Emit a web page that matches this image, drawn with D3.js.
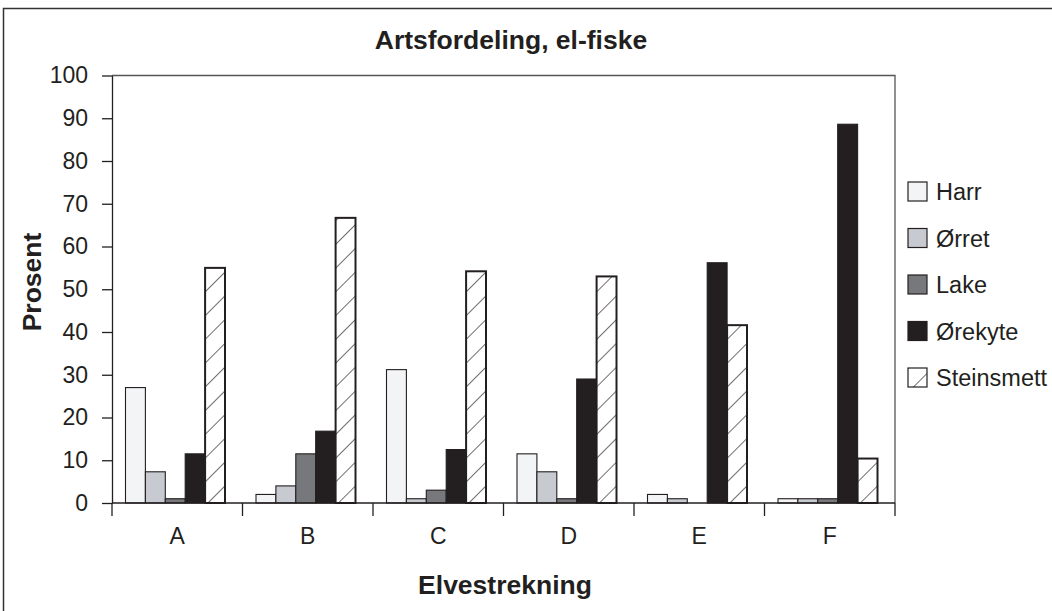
<!DOCTYPE html>
<html>
<head>
<meta charset="utf-8">
<script src="https://cdn.jsdelivr.net/npm/d3@7"></script>
<style>
  body { margin: 0; background: #fff; }
  text { font-family: "Liberation Sans", Arial, sans-serif; fill: #231f20; }
</style>
</head>
<body>
<svg id="chart" width="1052" height="611"></svg>
<script>
// data
const categories = ["A", "B", "C", "D", "E", "F"];
const species = ["Harr", "Ørret", "Lake", "Ørekyte", "Steinsmett"];
const harr = [27, 2, 31.2, 11.5, 2, 1];
const orret = [7.3, 4, 1, 7.3, 1, 1];
const lake = [1, 11.5, 3, 1, 0, 1];
const orekyte = [11.5, 16.8, 12.5, 29, 56.2, 88.6];
const steinsmett = [55, 66.7, 54.2, 53, 41.6, 10.4];
const yTicks = [0, 10, 20, 30, 40, 50, 60, 70, 80, 90, 100];

const seriesValues = [harr, orret, lake, orekyte, steinsmett];
const fills = ["#f3f4f6", "#c8cad1", "#77787c", "#231f20", "url(#hatch)"];

const margin = {top: 75.5, right: 157, bottom: 108, left: 112};
const width = 1052, height = 611;
const innerW = width - margin.left - margin.right;
const innerH = height - margin.top - margin.bottom;

const svg = d3.select("#chart");

// diagonal hatch for Steinsmett
const defs = svg.append("defs");
const pat = defs.append("pattern")
    .attr("id", "hatch")
    .attr("patternUnits", "userSpaceOnUse")
    .attr("width", 16.8)
    .attr("height", 10)
    .attr("patternTransform", "rotate(45)");
pat.append("rect").attr("width", 16.8).attr("height", 10).attr("fill", "#fff");
pat.append("line")
    .attr("x1", 0).attr("y1", 0).attr("x2", 0).attr("y2", 10)
    .attr("stroke", "#231f20").attr("stroke-width", 1.3);

// outer frame (runs off right and bottom)
svg.append("path")
    .attr("d", "M3.5,620 L3.5,8.5 L1060,8.5")
    .attr("fill", "none")
    .attr("stroke", "#333")
    .attr("stroke-width", 1.5);

svg.append("text")
    .attr("x", 511)
    .attr("y", 49)
    .attr("text-anchor", "middle")
    .attr("font-size", 26.5)
    .attr("font-weight", "bold")
    .text("Artsfordeling, el-fiske");

const g = svg.append("g").attr("transform", `translate(${margin.left},${margin.top})`);

const x = d3.scaleBand().domain(categories).range([0, innerW]).padding(0);
const groupW = 99.5;
const x1 = d3.scaleBand().domain(species)
    .range([(x.bandwidth() - groupW) / 2 - 2, (x.bandwidth() + groupW) / 2 - 2]);
const y = d3.scaleLinear().domain([0, 100]).range([innerH, 0]);

// plot frame: top and right
g.append("path")
    .attr("d", `M0,0 H${innerW} V${innerH}`)
    .attr("fill", "none")
    .attr("stroke", "#555")
    .attr("stroke-width", 1.3);

// bars
const rows = categories.map((c, i) => ({cat: c, vals: species.map((s, k) => ({s, k, v: seriesValues[k][i]}))}));
const groups = g.selectAll(".grp").data(rows).join("g")
    .attr("class", "grp")
    .attr("transform", d => `translate(${x(d.cat)},0)`);
groups.selectAll("rect")
    .data(d => d.vals.filter(e => e.v > 0))
    .join("rect")
    .attr("x", d => x1(d.s))
    .attr("width", x1.bandwidth())
    .attr("y", d => y(d.v))
    .attr("height", d => y(0) - y(d.v))
    .attr("fill", d => fills[d.k])
    .attr("stroke", "#231f20")
    .attr("stroke-width", d => d.k === 4 ? 2 : 1.1);

// y axis
const yAxis = g.append("g")
    .call(d3.axisLeft(y).tickValues(yTicks).tickSize(10).tickPadding(14).tickSizeOuter(0));
yAxis.select(".domain").attr("stroke", "#231f20").attr("stroke-width", 1.3);
yAxis.selectAll(".tick line").attr("stroke", "#231f20").attr("stroke-width", 1.3);
yAxis.selectAll("text").attr("font-size", 23).attr("font-family", "Liberation Sans, Arial, sans-serif").attr("fill", "#231f20");

// x axis: ticks at category boundaries
const xAxis = g.append("g").attr("transform", `translate(0,${innerH})`);
xAxis.append("line").attr("x1", 0).attr("x2", innerW)
    .attr("stroke", "#231f20").attr("stroke-width", 1.3);
const bounds = categories.map(c => x(c)).concat([innerW]);
xAxis.selectAll(".bt").data(bounds).join("line")
    .attr("class", "bt")
    .attr("x1", d => d).attr("x2", d => d)
    .attr("y1", 0).attr("y2", 13)
    .attr("stroke", "#231f20").attr("stroke-width", 1.3);
xAxis.selectAll(".cl").data(categories).join("text")
    .attr("class", "cl")
    .attr("x", d => x(d) + x.bandwidth() / 2)
    .attr("y", 41)
    .attr("text-anchor", "middle")
    .attr("font-size", 23)
    .text(d => d);

// axis titles
svg.append("text")
    .attr("x", 505)
    .attr("y", 594)
    .attr("text-anchor", "middle")
    .attr("font-size", 26.5)
    .attr("font-weight", "bold")
    .text("Elvestrekning");

svg.append("text")
    .attr("transform", "translate(41,282) rotate(-90)")
    .attr("text-anchor", "middle")
    .attr("font-size", 26.5)
    .attr("font-weight", "bold")
    .text("Prosent");

// legend
const legend = svg.append("g").attr("transform", "translate(908,182)");
const item = legend.selectAll(".li").data(species).join("g")
    .attr("class", "li")
    .attr("transform", (d, i) => `translate(0,${i * 46.5})`);
item.append("rect")
    .attr("width", 19)
    .attr("height", 19)
    .attr("fill", (d, i) => fills[i])
    .attr("stroke", "#231f20")
    .attr("stroke-width", 1.2);
item.append("text")
    .attr("x", 28)
    .attr("y", 18)
    .attr("font-size", 23.5)
    .text(d => d);
</script>
</body>
</html>
